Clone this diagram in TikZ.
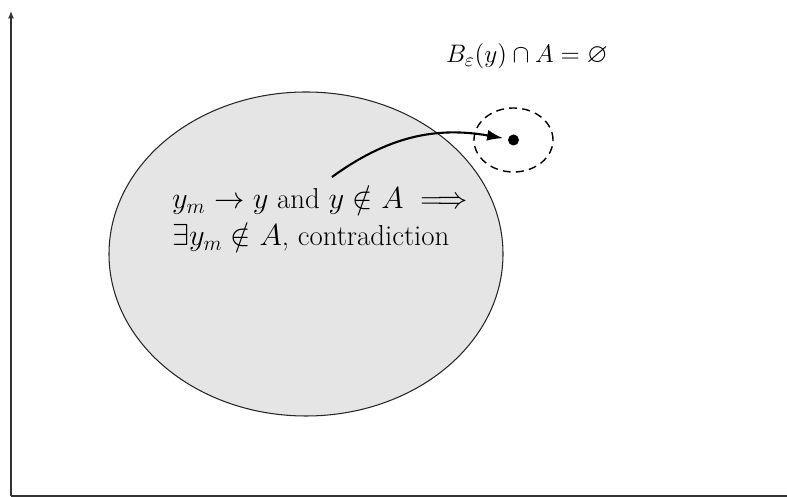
\documentclass[tikz,border=0pt]{standalone}
\usepackage{amsmath,amssymb}
\usepackage{tikz}
\usetikzlibrary{arrows.meta,positioning,shapes.geometric}
\definecolor{shade}{HTML}{E5E5E5}
\tikzset{
  axis/.style={line width=0.6pt,draw=black!80},
  region/.style={ellipse,draw=black!85,fill=shade,line width=0.6pt,inner sep=0pt},
  ball/.style={ellipse,draw=black,dashed,dash pattern=on 4.5pt off 3pt,line width=0.8pt,inner sep=0pt},
  pt/.style={circle,fill=black,inner sep=0pt,minimum size=2.2mm,outer sep=1mm},
  arr/.style={-{Latex[length=3.2mm,width=2.2mm]},line width=1.2pt},
  lbl/.style={font=\fontsize{16.4}{21}\selectfont,align=left},
}

\begin{document}
\begin{tikzpicture}[x=1cm,y=1cm]
  \useasboundingbox (0,0) rectangle (15.74,9.94);
  % axes
  \coordinate (o) at (0.22,0.02);
  \coordinate (ytop) at (0.22,9.72);
  \coordinate (xend) at (15.8,0.02);
  \draw[axis,-{Latex[length=1.5mm,width=1.2mm]}] (o) -- (ytop);
  \draw[axis] (o) -- (xend);
  % the set A
  \node[region,minimum width=7.88cm,minimum height=6.48cm] (A) at (6.12,4.86) {};
  \node[lbl,anchor=west] (claim) at (3.32,5.56)
    {$y_m \to y$ and $y \notin A \implies$\\ $\exists y_m \notin A$, contradiction};
  % the ball round y
  \node[ball,minimum width=1.58cm,minimum height=1.28cm] (B) at (10.27,7.14) {};
  \node[pt] (y) at (10.27,7.14) {};
  \node[lbl,font=\fontsize{15.4}{19}\selectfont] (empty) at (10.54,8.82) {$B_\varepsilon(y) \cap A = \varnothing$};
  % sequence leaving A
  \coordinate (s) at (6.64,6.40);
  \draw[arr] (s) to[out=36,in=170] (y);
\end{tikzpicture}
\end{document}
